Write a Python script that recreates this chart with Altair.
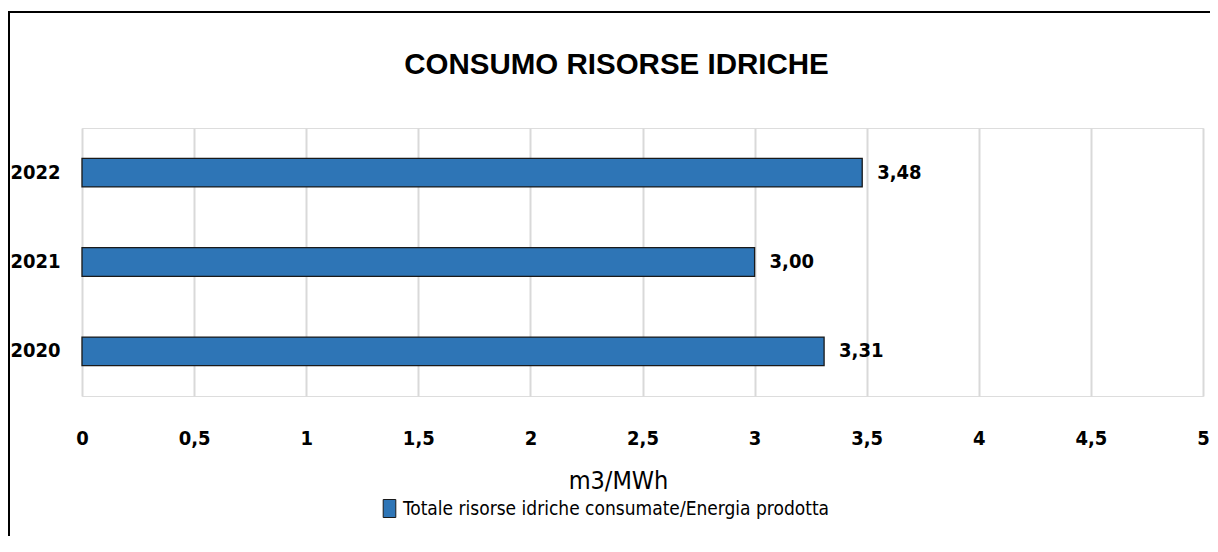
import altair as alt
import pandas as pd

years = ["2022", "2021", "2020"]
values = [3.48, 3.00, 3.31]
series_name = "Totale risorse idriche consumate/Energia prodotta"
title_text = "CONSUMO RISORSE IDRICHE"
x_title = "m3/MWh"

df = pd.DataFrame({
    "anno": years,
    "valore": values,
    "serie": [series_name] * len(years),
    "etichetta": [f"{v:.2f}".replace(".", ",") for v in values],
})

FONT = "DejaVu Sans Condensed, DejaVu Sans, sans-serif"
TFONT = "Liberation Sans, Arial, sans-serif"
BLUE = "#2E75B6"

W, H = 1121, 268

y_enc = alt.Y("anno:N", sort=years, title=None,
              scale=alt.Scale(paddingInner=0.68, paddingOuter=0.34),
              axis=alt.Axis(labelFont=FONT, labelFontSize=20, labelFontWeight="bold",
                            labelColor="#000000", labelPadding=22, ticks=False,
                            domain=False, grid=False))
x_enc = alt.X("valore:Q", title=x_title,
              scale=alt.Scale(domain=[0, 5], nice=False),
              axis=alt.Axis(values=[0, 0.5, 1, 1.5, 2, 2.5, 3, 3.5, 4, 4.5, 5],
                            labelExpr="replace(toString(datum.value), '.', ',')",
                            labelFont=FONT, labelFontSize=20, labelFontWeight="bold",
                            labelColor="#000000", labelPadding=32, ticks=False,
                            domain=False, grid=True, gridColor="#d9d9d9", gridWidth=2,
                            titleFont=FONT, titleFontSize=25, titleFontWeight="normal",
                            titleColor="#000000", titlePadding=20, titleX=536,
                            labelFlush=False))

bars = alt.Chart(df).mark_bar(stroke="#1a1a1a", strokeWidth=1.3).encode(
    y=y_enc,
    x=x_enc,
    color=alt.Color("serie:N", title=None,
                    scale=alt.Scale(domain=[series_name], range=[BLUE]),
                    legend=alt.Legend(orient="none", legendX=298, legendY=371,
                                      direction="horizontal",
                                      symbolType="M-0.7,-1L0.7,-1L0.7,1L-0.7,1Z",
                                      symbolSize=324,
                                      symbolStrokeColor="#1a1a1a", symbolStrokeWidth=1,
                                      labelFont=FONT, labelFontSize=19,
                                      labelColor="#000000", labelLimit=800,
                                      labelOffset=4, padding=0)),
)

labels = alt.Chart(df).mark_text(align="left", baseline="middle", dx=15,
                                 font=FONT, fontSize=20, fontWeight="bold",
                                 color="#000000").encode(
    y=alt.Y("anno:N", sort=years),
    x=alt.X("valore:Q"),
    text="etichetta:N",
)

frame_df = pd.DataFrame({"k": [0]})
left_border = alt.Chart(frame_df).mark_rule(color="#000000", strokeWidth=2).encode(
    x=alt.value(-73), y=alt.value(-116), y2=alt.value(H + 150))
top_border = alt.Chart(frame_df).mark_rule(color="#000000", strokeWidth=2).encode(
    x=alt.value(-74), x2=alt.value(W + 8), y=alt.value(-116))

chart = alt.layer(bars, labels, left_border, top_border).properties(
    width=W, height=H,
    padding={"left": 74, "top": 120, "right": 7, "bottom": 140},
    autosize=alt.AutoSizeParams(type="none"),
    title=alt.TitleParams(title_text, font=TFONT, fontSize=29.5, fontWeight="bold",
                          color="#000000", anchor="middle", baseline="alphabetic",
                          offset=-92, dx=-26),
).configure_view(stroke="#d9d9d9", strokeWidth=2).configure(background="#ffffff")

chart.save("out.html", embed_options={"renderer": "svg", "actions": False})
